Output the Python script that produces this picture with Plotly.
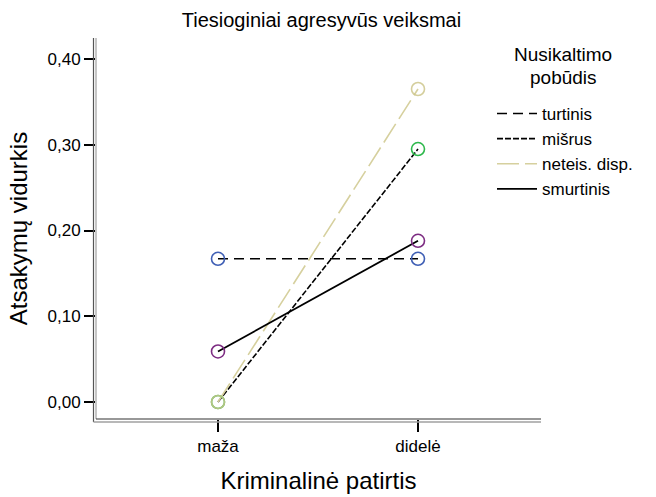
import plotly.graph_objects as go

# Category labels and group means
categories = ["maža", "didelė"]
series_names = ["turtinis", "mišrus", "neteis. disp.", "smurtinis"]
turtinis = [0.167, 0.167]
misrus = [0.0, 0.295]
neteis_disp = [0.0, 0.365]
smurtinis = [0.059, 0.188]
y_ticks = [0.0, 0.1, 0.2, 0.3, 0.4]

series_values = [turtinis, misrus, neteis_disp, smurtinis]
line_colors = ["#000000", "#000000", "#D6D09E", "#000000"]
line_dashes = ["10px,6px", "6px,2px", "22px,6px", "solid"]
marker_colors = [
    "#3F5FB5",
    "#2DB84B",
    "rgba(205,197,139,0.85)",
    "#7D2C82",
]

FONT = "Arial, Liberation Sans, sans-serif"

fig = go.Figure()

# Lines (these also produce the legend entries)
for name, vals, lc, dash in zip(series_names, series_values, line_colors, line_dashes):
    fig.add_trace(go.Scatter(
        x=categories, y=vals, mode="lines", name=name,
        legendgroup=name,
        line=dict(color=lc, width=1.6 if dash != "solid" else 1.8, dash=dash),
    ))

# Hollow circle markers at the means
for name, vals, mc in zip(series_names, series_values, marker_colors):
    fig.add_trace(go.Scatter(
        x=categories, y=vals, mode="markers", showlegend=False,
        legendgroup=name,
        marker=dict(symbol="circle-open", size=13, color=mc,
                    line=dict(width=1.6, color=mc)),
        hoverinfo="skip",
    ))

W, H = 656, 497
ML, MR, MT, MB = 96, 115, 38, 78
plot_w = W - ML - MR
plot_h = H - MT - MB
dx = 2.5 / plot_w
dy = 3 / plot_h


def px_x(px):
    return (px - ML) / plot_w


def px_y(py):
    return (H - MB - py) / plot_h


# Double-line axes
shapes = [
    dict(type="line", xref="paper", yref="paper", x0=-dx, x1=-dx, y0=-dy, y1=1,
         line=dict(color="#555555", width=1.2)),
    dict(type="line", xref="paper", yref="paper", x0=0, x1=0, y0=0, y1=1,
         line=dict(color="#A0A0A0", width=1.2)),
    dict(type="line", xref="paper", yref="paper", x0=0, x1=1, y0=0, y1=0,
         line=dict(color="#333333", width=1.2)),
    dict(type="line", xref="paper", yref="paper", x0=-dx, x1=1, y0=-dy, y1=-dy,
         line=dict(color="#A0A0A0", width=1.4)),
]

# Legend heading, centred above the entries (two lines, tight leading)
legend_heading = [
    dict(text=line, xref="paper", yref="paper",
         x=px_x(563), xanchor="center", y=px_y(yc), yanchor="middle",
         showarrow=False, font=dict(size=19, family=FONT))
    for line, yc in (("Nusikaltimo", 55), ("pobūdis", 77))
]

fig.update_layout(
    width=W, height=H,
    margin=dict(l=ML, r=MR, t=MT, b=MB),
    paper_bgcolor="white", plot_bgcolor="white",
    separators=", ",
    font=dict(family=FONT, color="#000000"),
    title=dict(text="Tiesioginiai agresyvūs veiksmai", x=0.49, xanchor="center",
               y=0.96, yanchor="middle", font=dict(size=20, family=FONT)),
    shapes=shapes,
    annotations=legend_heading,
    showlegend=True,
    legend=dict(
        x=px_x(492), xanchor="left",
        y=px_y(96), yanchor="top",
        font=dict(size=17, family=FONT),
        tracegroupgap=0,
        itemwidth=40,
        bgcolor="rgba(0,0,0,0)",
    ),
    xaxis=dict(
        type="category", categoryorder="array", categoryarray=categories,
        range=[-0.61, 1.615], showgrid=False, zeroline=False, showline=False,
        automargin=False,
        ticks="outside", ticklen=12, tickwidth=2, tickcolor="#000000",
        tickfont=dict(size=17, family=FONT),
        title=dict(text="Kriminalinė patirtis", font=dict(size=24, family=FONT),
                   standoff=16),
    ),
    yaxis=dict(
        range=[-0.0198, 0.4245], tickvals=y_ticks, tickformat=".2f",
        showgrid=False, zeroline=False, showline=False,
        automargin=False,
        ticks="outside", ticklen=11, tickwidth=2, tickcolor="#000000",
        tickfont=dict(size=17, family=FONT),
        title=dict(text="Atsakymų vidurkis", font=dict(size=24, family=FONT),
                   standoff=13),
    ),
)

fig.write_html("out.html")
